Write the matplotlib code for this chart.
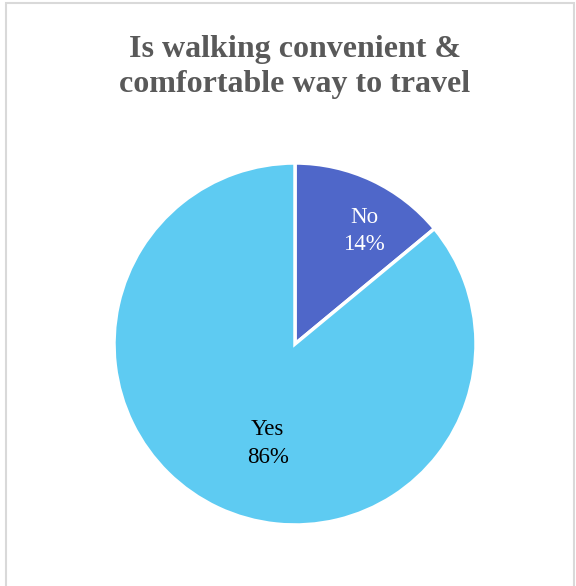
import numpy as np
import matplotlib
matplotlib.use("Agg")
import matplotlib.pyplot as plt
from matplotlib.patches import Rectangle

labels = ["No", "Yes"]
shares = [14, 86]
colors = ["#4f67c9", "#5ecbf2"]
text_colors = ["white", "black"]
label_dist = [0.74, 0.56]  # radial position of each label, as fraction of radius
label_shift = [-6.0, 9.6]  # extra angle shift (deg) for label placement

title = "Is walking convenient &\ncomfortable way to travel"

fig = plt.figure(figsize=(5.76, 5.86), dpi=100)

# light grey frame around the chart area
fig.patches.append(Rectangle((6 / 576, -0.1), 568 / 576, 1.1 - 3 / 586,
                             transform=fig.transFigure, fill=False,
                             edgecolor="#d9d9d9", linewidth=1.5))

ax = fig.add_axes([(295 - 181) / 576, (586 - 525) / 586, 362 / 576, 362 / 586])
wedges, _ = ax.pie(shares, colors=colors, startangle=90, counterclock=False,
                   wedgeprops=dict(edgecolor="white", linewidth=2.5), radius=1)
ax.set_xlim(-1.0, 1.0)
ax.set_ylim(-1.0, 1.0)
ax.set_aspect("equal")
ax.axis("off")

for w, lab, val, tc, d, sh in zip(wedges, labels, shares, text_colors, label_dist, label_shift):
    ang = np.deg2rad((w.theta1 + w.theta2) / 2 + sh)
    ax.text(d * np.cos(ang), d * np.sin(ang) - 0.01, "%s\n%d%%" % (lab, val),
            ha="center", va="center", color=tc, fontsize=16.5,
            family="Liberation Serif", linespacing=1.4)

fig.text(0.512, 1 - 67 / 586, title, ha="center", va="center",
         fontsize=23, fontweight="bold", family="Liberation Serif",
         color="#595959", linespacing=1.28)

fig.savefig("out.png", dpi=100)
